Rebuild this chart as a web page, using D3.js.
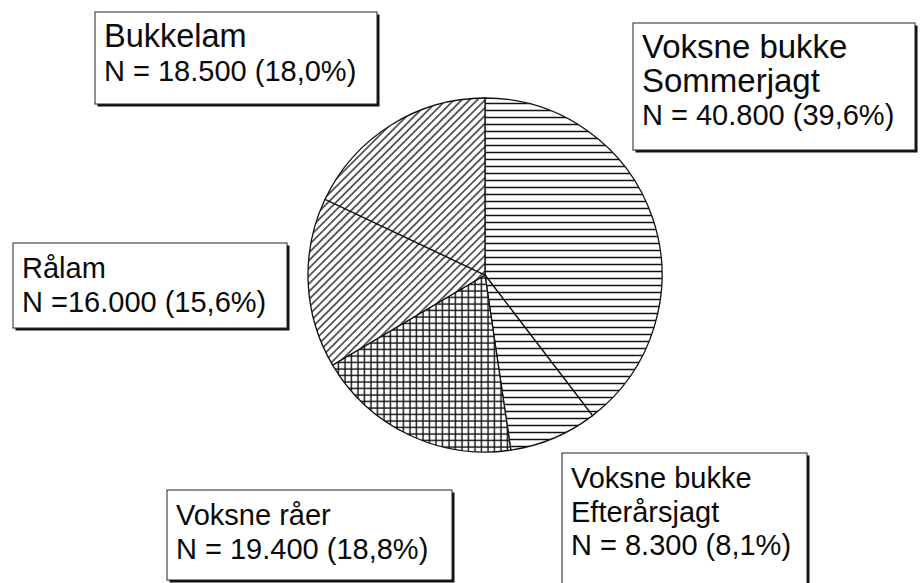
<!DOCTYPE html>
<html>
<head>
<meta charset="utf-8">
<script src="https://cdn.jsdelivr.net/npm/d3@7"></script>
<style>
  body { margin: 0; background: #fff; }
  text { font-family: "Liberation Sans", Arial, sans-serif; fill: #0a0a0a; }
</style>
</head>
<body>
<div id="container"></div>
<script>
// Data (clockwise from 12 o'clock)
const categories = ["Voksne bukke Sommerjagt", "Voksne bukke Efterårsjagt", "Voksne råer", "Rålam", "Bukkelam"];
const values = [40800, 8300, 19400, 16000, 18500];
const labelLines = [
  ["Voksne bukke", "Sommerjagt", "N = 40.800 (39,6%)"],
  ["Voksne bukke", "Efterårsjagt", "N = 8.300 (8,1%)"],
  ["Voksne råer", "N = 19.400 (18,8%)"],
  ["Rålam", "N =16.000 (15,6%)"],
  ["Bukkelam", "N = 18.500 (18,0%)"]
];
const fills = ["hlines", "hlines", "grid", "diag", "diag"];

// Label box layout [x0, y0, x1, y1, font size of the name lines]
const boxes = [
  [633, 23, 915, 150, 33],
  [562, 453, 807, 595, 29],
  [167, 490, 452, 580, 29],
  [13, 243, 287, 328, 29],
  [95, 12, 377, 104, 32.5]
];

const width = 921;
const height = 583;
const cx = 485, cy = 275, radius = 177;

const svg = d3.select("#container")
  .append("svg")
  .attr("width", width)
  .attr("height", height);

//Patterns
const defs = svg.append("defs");

const hl = defs.append("pattern")
  .attr("id", "hlines")
  .attr("patternUnits", "userSpaceOnUse")
  .attr("width", 10).attr("height", 7);
hl.append("rect").attr("width", 10).attr("height", 7).attr("fill", "#fff");
hl.append("line").attr("x1", 0).attr("x2", 10).attr("y1", 3.5).attr("y2", 3.5)
  .attr("stroke", "#111").attr("stroke-width", 1.5);

const gr = defs.append("pattern")
  .attr("id", "grid")
  .attr("patternUnits", "userSpaceOnUse")
  .attr("width", 6.5).attr("height", 6.5);
gr.append("rect").attr("width", 6.5).attr("height", 6.5).attr("fill", "#fff");
gr.append("line").attr("x1", 0).attr("x2", 6.5).attr("y1", 3).attr("y2", 3)
  .attr("stroke", "#111").attr("stroke-width", 1.4);
gr.append("line").attr("y1", 0).attr("y2", 6.5).attr("x1", 3).attr("x2", 3)
  .attr("stroke", "#111").attr("stroke-width", 1.4);

const dg = defs.append("pattern")
  .attr("id", "diag")
  .attr("patternUnits", "userSpaceOnUse")
  .attr("width", 5.5).attr("height", 5.5)
  .attr("patternTransform", "rotate(45)");
dg.append("rect").attr("width", 5.5).attr("height", 5.5).attr("fill", "#fff");
dg.append("line").attr("x1", 2.75).attr("x2", 2.75).attr("y1", 0).attr("y2", 5.5)
  .attr("stroke", "#111").attr("stroke-width", 1.3);

//Pie
const pie = d3.pie().sort(null).value(d => d);
const arc = d3.arc().innerRadius(0).outerRadius(radius);

svg.append("g")
  .attr("transform", `translate(${cx}, ${cy})`)
  .selectAll("path")
  .data(pie(values))
  .join("path")
  .attr("d", arc)
  .attr("fill", (d, i) => `url(#${fills[i]})`)
  .attr("stroke", "#111")
  .attr("stroke-width", 1.3);

//Label boxes
const lineH = 33.5;
const label = svg.selectAll("g.label")
  .data(categories)
  .join("g")
  .attr("class", "label");

// shadow
label.append("rect")
  .attr("x", (d, i) => boxes[i][0] + 2.5)
  .attr("y", (d, i) => boxes[i][1] + 2.5)
  .attr("width", (d, i) => boxes[i][2] - boxes[i][0])
  .attr("height", (d, i) => boxes[i][3] - boxes[i][1])
  .attr("fill", "#111");

label.append("rect")
  .attr("x", (d, i) => boxes[i][0])
  .attr("y", (d, i) => boxes[i][1])
  .attr("width", (d, i) => boxes[i][2] - boxes[i][0])
  .attr("height", (d, i) => boxes[i][3] - boxes[i][1])
  .attr("fill", "#fff")
  .attr("stroke", "#222")
  .attr("stroke-width", 1);

label.each(function(d, i) {
  const b = boxes[i];
  const lines = labelLines[i];
  d3.select(this).selectAll("text.line")
    .data(lines)
    .join("text")
    .attr("class", "line")
    .attr("x", b[0] + 9)
    .attr("y", (t, j) => b[1] + 35 + j * lineH)
    .style("font-size", (t, j) => (j === lines.length - 1 ? 29 : b[4]) + "px")
    .text(t => t);
});
</script>
</body>
</html>
